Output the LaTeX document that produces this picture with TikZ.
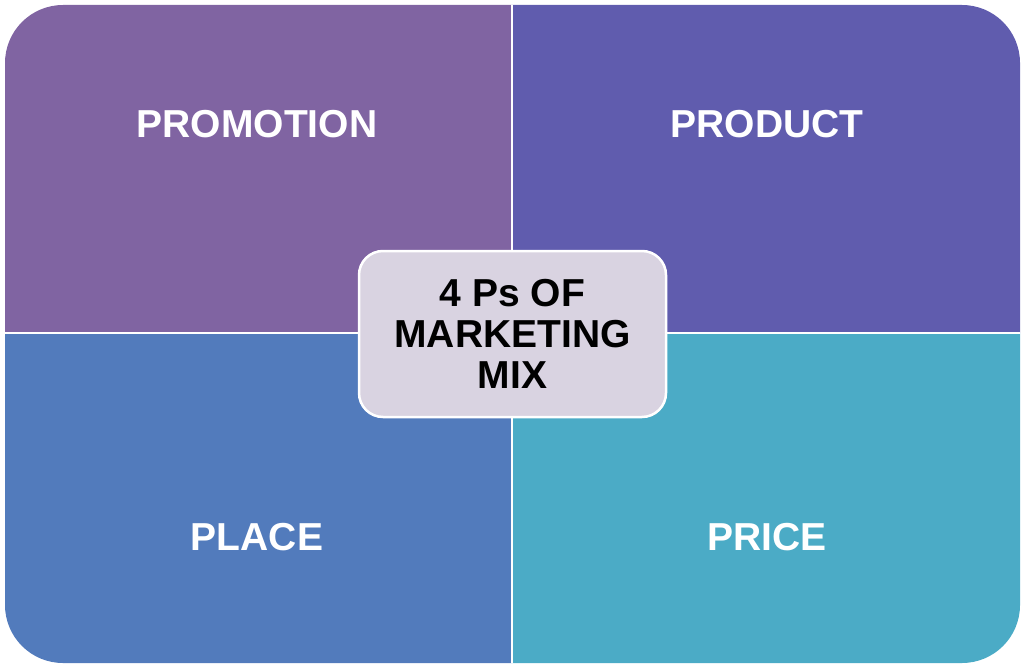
\documentclass[tikz,border=0pt]{standalone}
\usepackage{fontspec}
\setmainfont{Liberation Sans}
\definecolor{cpromo}{HTML}{8064A2}
\definecolor{cprod}{HTML}{605CAE}
\definecolor{cplace}{HTML}{527BBC}
\definecolor{cprice}{HTML}{4BABC6}
\definecolor{ccenter}{HTML}{D9D3E1}
\begin{document}
\begin{tikzpicture}[x=1pt,y=-1pt,
  lbl/.style={text=white,font=\fontsize{39}{41}\selectfont\bfseries,inner sep=0pt,anchor=base},
  centerbox/.style={draw=white,line width=2.5pt,fill=ccenter,rounded corners=24pt}]
\useasboundingbox (0,0) rectangle (1024,668);
\begin{scope}
  \clip[rounded corners=58pt] (5,5) rectangle (1020,663);
  \fill[cpromo] (0,0) rectangle (512,333);
  \fill[cprod] (512,0) rectangle (1024,333);
  \fill[cplace] (0,333) rectangle (512,668);
  \fill[cprice] (512,333) rectangle (1024,668);
  \draw[white,line width=2.5pt] (512,0) -- (512,668);
  \draw[white,line width=2.5pt] (0,333) -- (1024,333);
\end{scope}
\node[lbl] (promo) at (257,138) {PROMOTION};
\node[lbl] (prod) at (767,138) {PRODUCT};
\node[lbl] (place) at (257,550) {PLACE};
\node[lbl] (price) at (767,550) {PRICE};
\path[centerbox] (359,251) rectangle (666,417);
\node[inner sep=0pt,align=center,font=\fontsize{39}{41}\selectfont\bfseries] (title) at (512.5,334) {4 Ps OF\\MARKETING\\MIX};
\end{tikzpicture}
\end{document}
